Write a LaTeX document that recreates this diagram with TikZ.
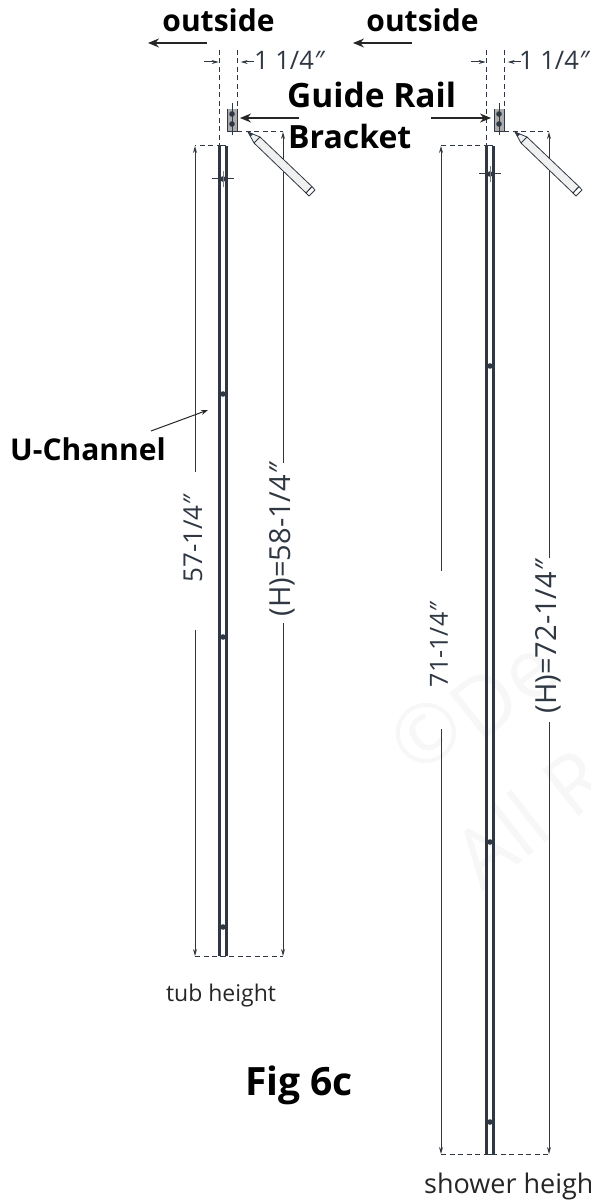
\documentclass[tikz,border=0pt]{standalone}
\usepackage{fontspec}
\setmainfont{Open Sans}
\definecolor{inkc}{HTML}{2E3742}
\definecolor{dimc}{HTML}{2F3742}
\usetikzlibrary{arrows.meta}
\newcommand{\inch}{{\itshape ″}}
\tikzset{
	boldtxt/.style={font=\fontsize{#1}{#1}\selectfont\bfseries,text=black,inner sep=0pt},
	dimtxt/.style={font=\fontsize{#1}{#1}\selectfont,text=dimc,inner sep=0pt},
	plaintxt/.style={font=\fontsize{#1}{#1}\selectfont,text=black!85,inner sep=0pt},
	marktxt/.style={font=\fontsize{82}{84}\selectfont,text=black!3,inner sep=0pt,rotate=38},
	dimline/.style={draw=dimc,line width=1pt,-{Stealth[length=7pt,width=4pt]}},
	hidden/.style={draw=dimc,line width=1pt,dash pattern=on 5pt off 3.5pt},
	pointer/.style={draw=black!85,line width=1.3pt,-{Stealth[length=11pt,width=9pt]}},
}
\begin{document}
\begin{tikzpicture}[x=1pt,y=-1pt,>=stealth,line join=round]
	\useasboundingbox (0,0) rectangle (591,1201);
	\clip (0,0) rectangle (591,1201);
	% watermark
	\node[marktxt] (markc) at (426,733) {©};
	\node[marktxt,anchor=west] (markd) at (462,722) {De};
	\node[marktxt,anchor=west] (marka) at (463,868) {All R};
	% channel, bracket and pencil: x, bottom, left and right dim lines, label gaps
	\foreach \n/\xc/\yb/\xl/\xr/\ga/\gb/\gc/\gd in {l/219.7/956/195/283/472/630/463/623,r/486.7/1154/441/549/571/729/558/722}{
		% channel
		\draw[inkc,line width=2.5pt] (\xc,146)--(\xc,\yb) (\xc+6.6,146)--(\xc+6.6,\yb);
		\draw[inkc,line width=1pt] (\xc,146)--(\xc+6.6,146) (\xc,\yb)--(\xc+6.6,\yb);
		% bracket
		\fill[gray!65] (\xc+7.3,109) rectangle (\xc+17.3,132);
		\draw[inkc,line width=1pt] (\xc+7.3,109)--(\xc+7.3,132)--(\xc+17.3,132)--(\xc+17.3,109);
		\draw[inkc,line width=1pt] (\xc+12.3,103)--(\xc+12.3,135);
		\foreach \yy in {114,124} \fill[inkc] (\xc+12.3,\yy) circle (2.8);
		% hidden lines
		\draw[hidden] (\xc-0.7,50)--(\xc-0.7,146)--(\xl,146);
		\draw[hidden] (\xc+17.3,50)--(\xc+17.3,109);
		\draw[hidden] (\xc+17.3,132)--(\xr,132);
		\draw[hidden] (\xl,\yb)--(\xr,\yb);
		% dim arrows
		\coordinate (lt\n) at (\xl,146); \coordinate (lb\n) at (\xl,\yb);
		\coordinate (rt\n) at (\xr,132); \coordinate (rb\n) at (\xr,\yb);
		\draw[dimline] (\xl,\ga)--(lt\n);
		\draw[dimline] (\xl,\gb)--(lb\n);
		\draw[dimline] (\xr,\gc)--(rt\n);
		\draw[dimline] (\xr,\gd)--(rb\n);
		\draw[dimline] (\xc-16,62)--(\xc-1,62);
		\draw[dimline] (\xc+34,62)--(\xc+21,62);
		% pencil
		\begin{scope}[shift={(\xc+28.3,132)}]
			\draw[inkc,fill=gray!12,line width=0.8pt] (0,0)--(6,11)--(58,61)--(64,54.6)--(12,5)--cycle;
			\draw[inkc,line width=0.8pt] (6,11)--(12,5) (58,61)--(61,64)--(67,58)--(64,54.6) (58,61)--(64,54.6);
			\fill[inkc] (0,0)--(2.5,4.5)--(5,2)--cycle;
		\end{scope}
	}
	% holes along each channel
	\foreach \yy in {179,394,637,927} \fill[inkc] (223,\yy) circle (2.8);
	\foreach \yy in {174,366,842,1122} \fill[inkc] (490,\yy) circle (2.8);
	\foreach \xc/\yy in {219/179,486/174} {
		\draw[inkc,line width=1pt] (\xc-7,\yy)--(\xc+15,\yy);
		\draw[gray,line width=1pt] (\xc+4,\yy-8)--(\xc+4,\yy+8);
	}
	% labels
	\node[boldtxt=30] (outl) at (218.5,20) {outside};
	\node[boldtxt=30] (outr) at (422.5,20) {outside};
	\node[boldtxt=33.5,anchor=west] (guide) at (287,95) {Guide Rail};
	\node[boldtxt=32,anchor=west] (brack) at (288,137) {Bracket};
	\node[boldtxt=30,anchor=west] (uchan) at (10,449) {U-Channel};
	\node[boldtxt=39] (figc) at (299,1085) {Fig 6c};
	\node[dimtxt=25.5,anchor=west] (inl) at (254,60) {1 1/4\inch};
	\node[dimtxt=25.5,anchor=west] (inr) at (519,60) {1 1/4\inch};
	\node[dimtxt=26,rotate=90] (tubin) at (193,539) {57-1/4\inch};
	\node[dimtxt=29,rotate=90] (tubh) at (282,540) {(H)=58-1/4\inch};
	\node[dimtxt=25,rotate=90] (shin) at (439,645) {71-1/4\inch};
	\node[dimtxt=29,rotate=90] (shh) at (548,637) {(H)=72-1/4\inch};
	\node[plaintxt=23] (tubl) at (221,996) {tub height};
	\node[plaintxt=27,anchor=west] (shl) at (424,1186) {shower height};
	% pointers
	\coordinate (oa) at (207,43); \coordinate (ob) at (148,43);
	\coordinate (oc) at (412,43); \coordinate (od) at (353,43);
	\coordinate (ga) at (299,118); \coordinate (gb) at (240,118);
	\coordinate (gc) at (431,118); \coordinate (gd) at (491,118);
	\coordinate (ua) at (151,431); \coordinate (ub) at (208,410);
	\draw[pointer] (oa)--(ob);
	\draw[pointer] (oc)--(od);
	\draw[pointer] (ga)--(gb);
	\draw[pointer] (gc)--(gd);
	\draw[draw=black!85,line width=1pt,-{Stealth[length=7pt,width=5pt]}] (ua)--(ub);
\end{tikzpicture}
\end{document}
